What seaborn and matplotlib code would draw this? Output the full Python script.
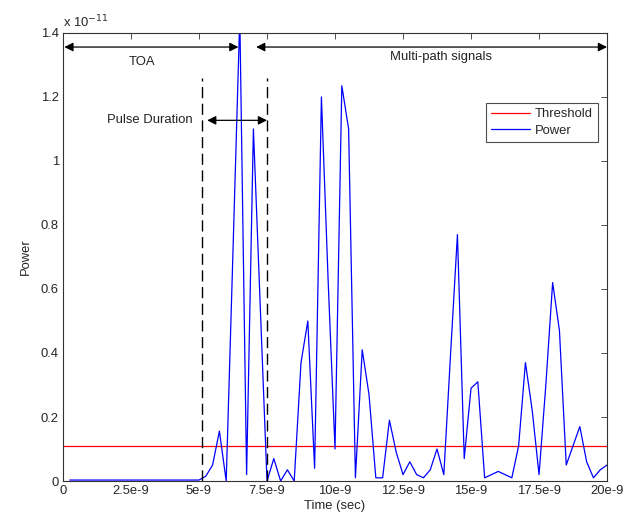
import matplotlib
matplotlib.use("Agg")
import matplotlib.pyplot as plt
import numpy as np
import pandas as pd
import seaborn as sns

# sample times in ns (0.25 ns step)
TIME_NS = [
    0.25, 0.5, 0.75, 1.0, 1.25, 1.5, 1.75, 2.0, 2.25, 2.5, 2.75, 3.0, 3.25, 3.5, 3.75, 4.0,
    4.25, 4.5, 4.75, 5.0, 5.25, 5.5, 5.75, 6.0, 6.25, 6.5, 6.75, 7.0, 7.25, 7.5, 7.75, 8.0,
    8.25, 8.5, 8.75, 9.0, 9.25, 9.5, 9.75, 10.0, 10.25, 10.5, 10.75, 11.0, 11.25, 11.5, 11.75,
    12.0, 12.25, 12.5, 12.75, 13.0, 13.25, 13.5, 13.75, 14.0, 14.25, 14.5, 14.75, 15.0, 15.25,
    15.5, 15.75, 16.0, 16.25, 16.5, 16.75, 17.0, 17.25, 17.5, 17.75, 18.0, 18.25, 18.5, 18.75,
    19.0, 19.25, 19.5, 19.75, 20.0,
]
# received power, units of 1e-11
POWER = [
    0.003, 0.003, 0.003, 0.003, 0.003, 0.003, 0.003, 0.003, 0.003, 0.003, 0.003, 0.003, 0.003,
    0.003, 0.003, 0.003, 0.003, 0.003, 0.003, 0.003, 0.015, 0.05, 0.156, 0.0, 0.72, 1.45, 0.02,
    1.10, 0.55, 0.0, 0.07, 0.0, 0.035, 0.0, 0.37, 0.50, 0.04, 1.20, 0.62, 0.10, 1.235, 1.10,
    0.01, 0.41, 0.27, 0.01, 0.01, 0.19, 0.09, 0.02, 0.06, 0.02, 0.01, 0.035, 0.10, 0.02, 0.40,
    0.77, 0.07, 0.29, 0.31, 0.01, 0.02, 0.03, 0.02, 0.01, 0.11, 0.37, 0.22, 0.02, 0.30, 0.62,
    0.47, 0.05, 0.11, 0.17, 0.06, 0.01, 0.035, 0.05,
]
THRESHOLD = 0.11

PULSE_START = 5.1
PULSE_END = 7.5
TOA_END = 6.45
MULTIPATH_START = 7.1

X_TICKS = [0, 2.5, 5, 7.5, 10, 12.5, 15, 17.5, 20]
X_TICK_LABELS = ["0", "2.5e-9", "5e-9", "7.5e-9", "10e-9", "12.5e-9", "15e-9", "17.5e-9", "20e-9"]
Y_TICKS = [0, 0.2, 0.4, 0.6, 0.8, 1.0, 1.2, 1.4]
Y_TICK_LABELS = ["0", "0.2", "0.4", "0.6", "0.8", "1", "1.2", "1.4"]

FS = 9.4

sns.set_theme(style="white")
plt.rcParams["font.family"] = ["Liberation Sans", "DejaVu Sans"]
plt.rcParams["xtick.direction"] = "in"
plt.rcParams["ytick.direction"] = "in"

df = pd.DataFrame({"t": TIME_NS, "power": POWER})

fig = plt.figure(figsize=(6.33, 5.15), dpi=100)
ax = fig.add_axes([0.0995, 0.066, 0.8595, 0.87])

ax.axhline(THRESHOLD, color="red", lw=0.9, label="Threshold")
sns.lineplot(data=df, x="t", y="power", color="blue", lw=0.9, ax=ax, label="Power")

ax.set_xlim(0, 20)
ax.set_ylim(0, 1.4)
ax.set_xticks(X_TICKS, labels=X_TICK_LABELS)
ax.set_yticks(Y_TICKS, labels=Y_TICK_LABELS)
ax.tick_params(axis="both", which="both", labelsize=FS, length=4, width=0.6,
               top=True, right=True, color="#333333", pad=3)
for s in ax.spines.values():
    s.set_color("#333333")
    s.set_linewidth(0.8)

ax.set_xlabel("Time (sec)", fontsize=FS, labelpad=2)
ax.set_ylabel("Power", fontsize=FS, labelpad=6)
ax.text(0, 1.005, r"x 10$^{-11}$", transform=ax.transAxes, fontsize=FS, va="bottom")

# pulse window
for xv in (PULSE_START, PULSE_END):
    ax.plot([xv, xv], [0, 1.26], color="black", lw=1.0, ls=(0, (8, 4)))

arrow = dict(arrowstyle="<|-|>", color="black", lw=0.9, mutation_scale=13,
             shrinkA=0, shrinkB=0)
ax.annotate("", xy=(0.05, 1.356), xytext=(TOA_END, 1.356), arrowprops=arrow)
ax.annotate("", xy=(MULTIPATH_START, 1.356), xytext=(20, 1.356), arrowprops=arrow)
ax.annotate("", xy=(5.3, 1.127), xytext=(PULSE_END, 1.127), arrowprops=arrow)

ax.text(2.9, 1.31, "TOA", ha="center", va="center", fontsize=FS, color="#222222")
ax.text(13.9, 1.325, "Multi-path signals", ha="center", va="center", fontsize=FS, color="#222222")
ax.text(3.2, 1.127, "Pulse Duration", ha="center", va="center", fontsize=FS, color="#222222")

leg = ax.legend(loc="upper right", bbox_to_anchor=(0.984, 0.844), fontsize=FS, frameon=True,
                fancybox=False, handlelength=3.0, handletextpad=0.4, borderpad=0.4,
                labelspacing=0.35, borderaxespad=0)
leg.get_frame().set_edgecolor("#222222")
leg.get_frame().set_linewidth(0.8)

fig.savefig("out.png", dpi=100, facecolor="white")
